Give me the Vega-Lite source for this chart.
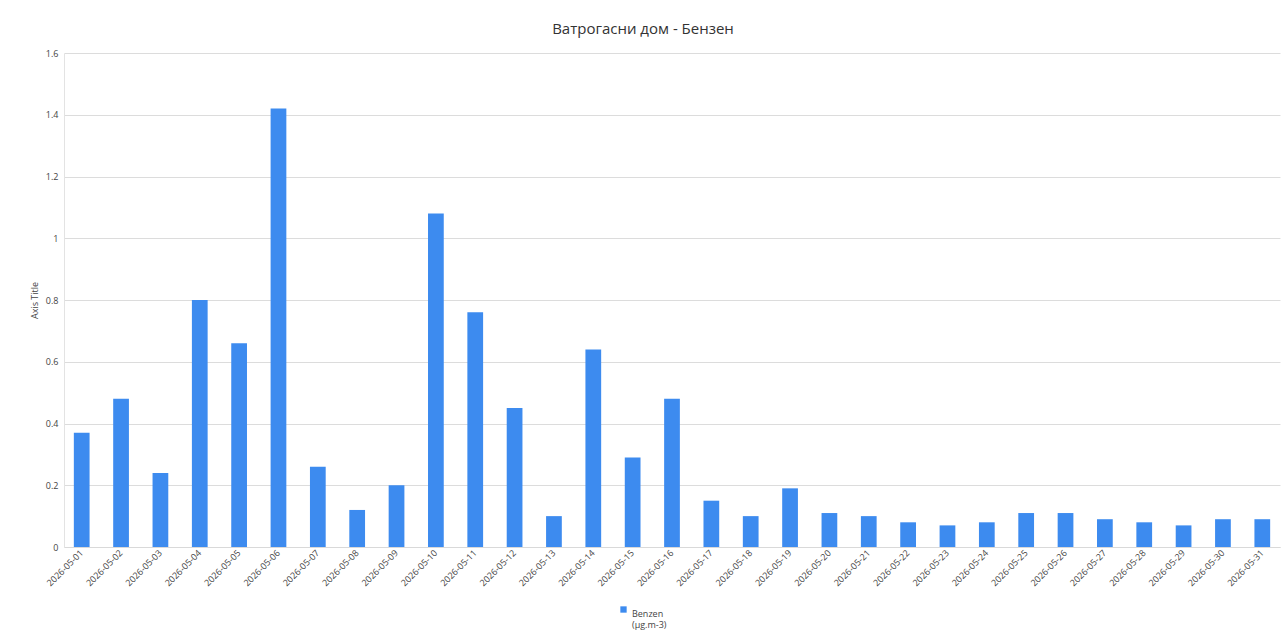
{
  "$schema": "https://vega.github.io/schema/vega-lite/v6.json",
  "autosize": "none",
  "width": 1216,
  "height": 494,
  "padding": {"left": 64, "top": 53, "right": 8, "bottom": 84},
  "background": "white",
  "title": {
    "text": "Ватрогасни дом - Бензен",
    "font": "Open Sans",
    "fontSize": 15,
    "fontWeight": "normal",
    "color": "#333333",
    "anchor": "middle",
    "dx": -29,
    "offset": 12
  },
  "data": {
    "values": [
      {"date": "2026-05-01", "value": 0.37, "series": "Benzen"},
      {"date": "2026-05-02", "value": 0.48, "series": "Benzen"},
      {"date": "2026-05-03", "value": 0.24, "series": "Benzen"},
      {"date": "2026-05-04", "value": 0.80, "series": "Benzen"},
      {"date": "2026-05-05", "value": 0.66, "series": "Benzen"},
      {"date": "2026-05-06", "value": 1.42, "series": "Benzen"},
      {"date": "2026-05-07", "value": 0.26, "series": "Benzen"},
      {"date": "2026-05-08", "value": 0.12, "series": "Benzen"},
      {"date": "2026-05-09", "value": 0.20, "series": "Benzen"},
      {"date": "2026-05-10", "value": 1.08, "series": "Benzen"},
      {"date": "2026-05-11", "value": 0.76, "series": "Benzen"},
      {"date": "2026-05-12", "value": 0.45, "series": "Benzen"},
      {"date": "2026-05-13", "value": 0.10, "series": "Benzen"},
      {"date": "2026-05-14", "value": 0.64, "series": "Benzen"},
      {"date": "2026-05-15", "value": 0.29, "series": "Benzen"},
      {"date": "2026-05-16", "value": 0.48, "series": "Benzen"},
      {"date": "2026-05-17", "value": 0.15, "series": "Benzen"},
      {"date": "2026-05-18", "value": 0.10, "series": "Benzen"},
      {"date": "2026-05-19", "value": 0.19, "series": "Benzen"},
      {"date": "2026-05-20", "value": 0.11, "series": "Benzen"},
      {"date": "2026-05-21", "value": 0.10, "series": "Benzen"},
      {"date": "2026-05-22", "value": 0.08, "series": "Benzen"},
      {"date": "2026-05-23", "value": 0.07, "series": "Benzen"},
      {"date": "2026-05-24", "value": 0.08, "series": "Benzen"},
      {"date": "2026-05-25", "value": 0.11, "series": "Benzen"},
      {"date": "2026-05-26", "value": 0.11, "series": "Benzen"},
      {"date": "2026-05-27", "value": 0.09, "series": "Benzen"},
      {"date": "2026-05-28", "value": 0.08, "series": "Benzen"},
      {"date": "2026-05-29", "value": 0.07, "series": "Benzen"},
      {"date": "2026-05-30", "value": 0.09, "series": "Benzen"},
      {"date": "2026-05-31", "value": 0.09, "series": "Benzen"}
    ]
  },
  "mark": {"type": "bar"},
  "encoding": {
    "x": {
      "field": "date",
      "type": "nominal",
      "scale": {"paddingInner": 0.6, "paddingOuter": 0.25},
      "axis": {
        "title": null,
        "labelAngle": -45,
        "labelAlign": "right",
        "labelBaseline": "middle",
        "labelFont": "Open Sans",
        "labelFontSize": 9,
        "labelColor": "#444444",
        "labelPadding": 4,
        "ticks": false,
        "domainColor": "#d9d9d9",
        "grid": false
      }
    },
    "y": {
      "field": "value",
      "type": "quantitative",
      "scale": {"domain": [0, 1.6]},
      "axis": {
        "title": "Axis Title",
        "titleFont": "Open Sans",
        "titleFontSize": 9,
        "titleFontWeight": "normal",
        "titleColor": "#444444",
        "titlePadding": 6,
        "values": [0, 0.2, 0.4, 0.6, 0.8, 1, 1.2, 1.4, 1.6],
        "labelExpr": "toString(datum.value)",
        "labelFont": "Open Sans",
        "labelFontSize": 9,
        "labelColor": "#444444",
        "labelPadding": 6,
        "ticks": false,
        "domainColor": "#e3e3e3",
        "gridColor": "#dcdcdc",
        "gridWidth": 1
      }
    },
    "color": {
      "field": "series",
      "type": "nominal",
      "scale": {"range": ["#3d8bef"]},
      "legend": {
        "title": null,
        "orient": "none",
        "legendX": 555,
        "legendY": 552,
        "symbolType": "square",
        "symbolSize": 40,
        "labelFont": "Open Sans",
        "labelFontSize": 9,
        "labelColor": "#444444",
        "labelExpr": "['Benzen', '(µg.m-3)']",
        "labelBaseline": "top",
        "labelOffset": 4
      }
    }
  },
  "config": {"view": {"stroke": null}}
}
